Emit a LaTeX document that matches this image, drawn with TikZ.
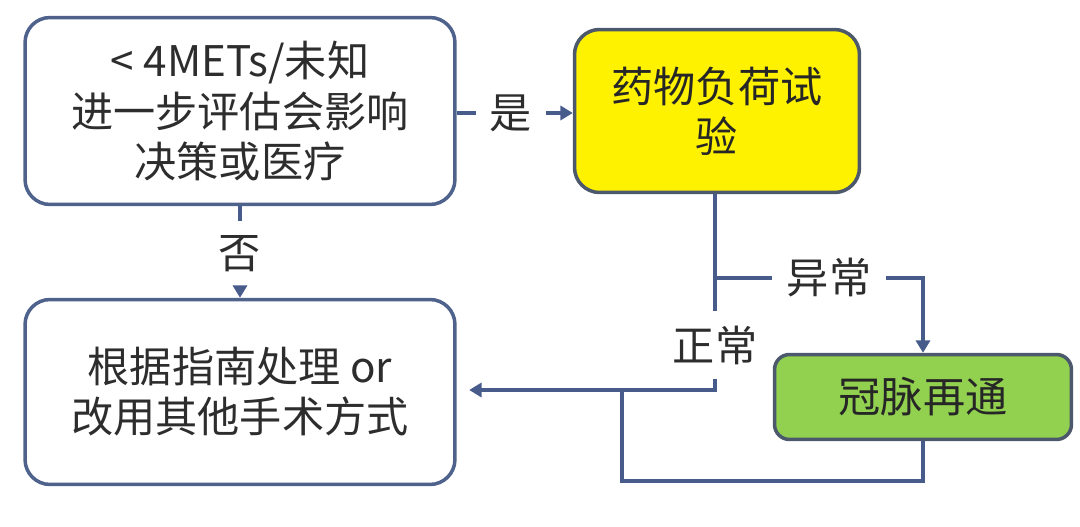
\documentclass[tikz,border=0pt]{standalone}
\usepackage{fontspec}
\setmainfont{Noto Sans CJK SC}
\usepackage{tikz}
\usetikzlibrary{arrows.meta,positioning,calc}

\definecolor{lineblue}{RGB}{72,92,140}
\definecolor{boxedge}{RGB}{78,98,140}
\definecolor{darkedge}{RGB}{76,88,108}
\definecolor{txtgray}{RGB}{45,45,45}
\definecolor{testyellow}{RGB}{255,242,0}
\definecolor{revgreen}{RGB}{146,208,80}

\begin{document}
\begin{tikzpicture}[
    x=0.02cm, y=-0.02cm,
    box/.style={draw=boxedge, line width=2pt, rounded corners=0.5cm, fill=white,
                align=center, text=txtgray, font=\fontsize{24}{28.5}\selectfont},
    lab/.style={inner sep=0.28cm, text=txtgray, font=\fontsize{24}{28.5}\selectfont},
    conn/.style={draw=lineblue, line width=2pt},
    arr/.style={conn, -{Triangle[length=7pt, width=8pt]}}
]
    \useasboundingbox (0,0) rectangle (1080,527);

    % Boxes
    \node[box, minimum width=8.6cm, minimum height=3.74cm] (assess) at (240,111) {< 4METs/未知\\进一步评估会影响\\决策或医疗};
    \node[box, draw=darkedge, fill=testyellow, text=black!85, minimum width=5.7cm, minimum height=3.26cm] (stress) at (717,111) {药物负荷试\\验};
    \node[box, minimum width=8.6cm, minimum height=3.7cm] (guide) at (240,392) {根据指南处理 or\\改用其他手术方式};
    \node[box, draw=darkedge, fill=revgreen, text=black!85, rounded corners=0.3cm, minimum width=5.94cm, minimum height=1.7cm] (revasc) at (923,397) {冠脉再通};

    % Labels
    \node[lab] (yes) at (511,113) {是};
    \node[lab] (no) at (240,254) {否};
    \node[lab] (abn) at (829,278) {异常};
    \node[lab] (norm) at (715,345) {正常};

    % Connectors
    \draw[conn] (assess.east |- yes) -- (yes.west);
    \draw[arr] (yes.east) -- (stress.west |- yes);
    \draw[conn] (assess.south) -- (no.north);
    \draw[arr] (no.south) -- (guide.north);

    \coordinate (branch) at (norm |- abn);
    \draw[conn] (stress.south -| norm) -- (norm.north);
    \draw[conn] (branch) -- (abn.west);
    \draw[arr] (abn.east) -| (revasc.north);

    \coordinate (join) at (622,390);
    \draw[arr, shorten >=0.25cm] (norm.south) |- (guide.east |- join);
    \draw[conn] (revasc.south) -- ++(0,40) -| (join);
\end{tikzpicture}
\end{document}
